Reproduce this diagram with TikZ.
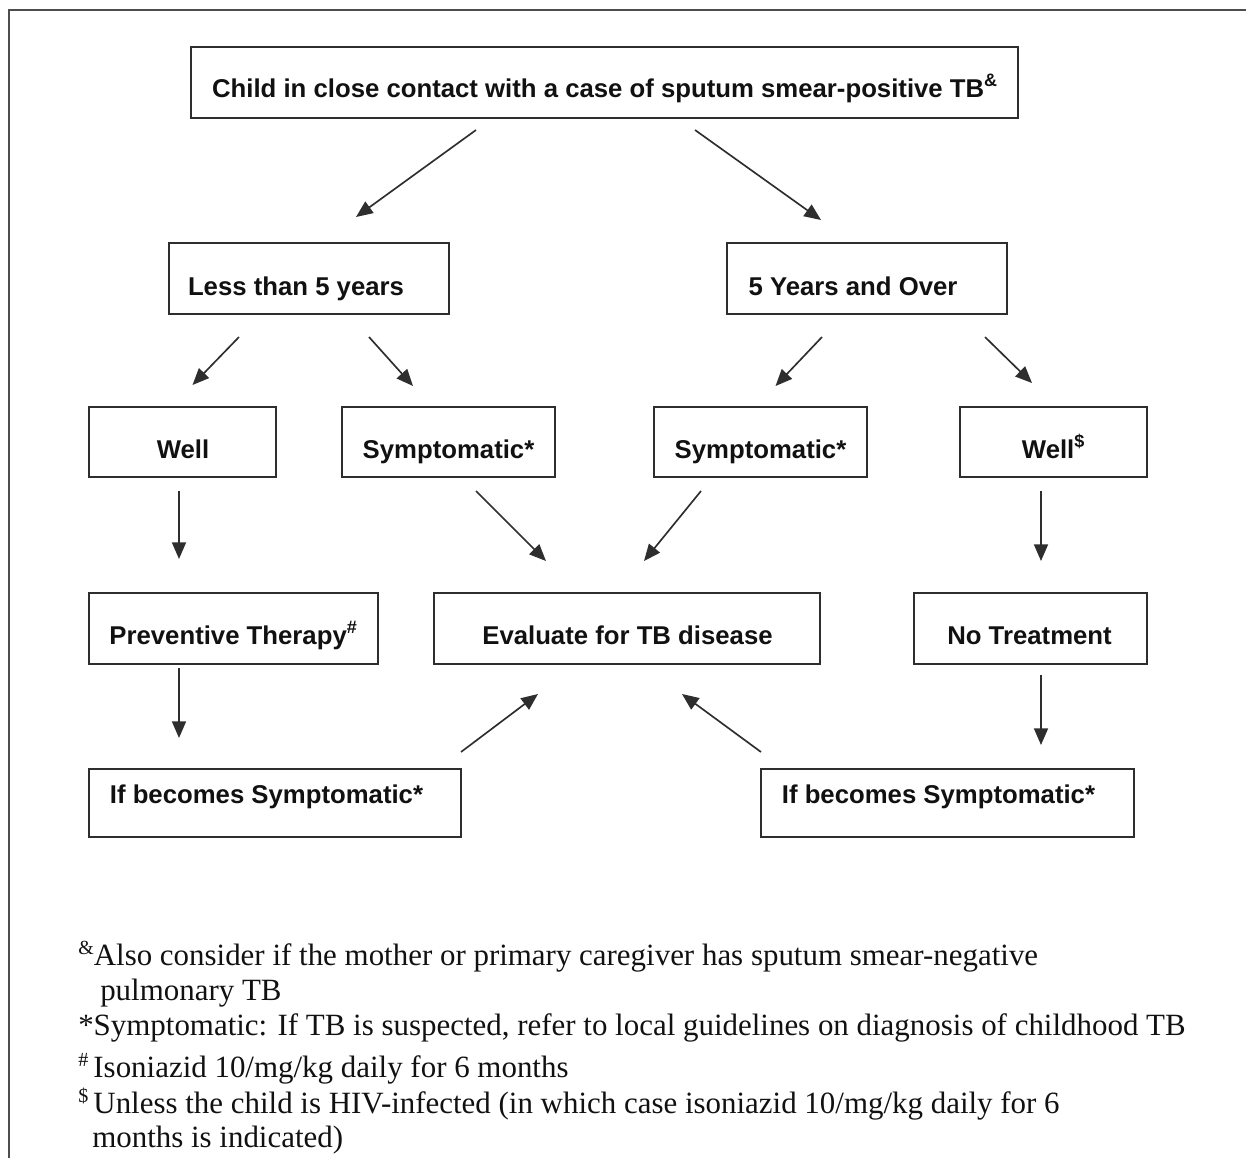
\documentclass[tikz,border=0pt]{standalone}
\usepackage{fontspec}
\setmainfont{Liberation Serif}
\newfontfamily\boxfont{Liberation Sans}
\usetikzlibrary{arrows.meta,calc}
\definecolor{ln}{HTML}{2E2E2E}
\definecolor{tx}{HTML}{111111}
\begin{document}
\begin{tikzpicture}[x=0.75pt,y=-0.75pt,
  box/.style={draw=ln,line width=1.25pt,inner sep=0pt,outer sep=0pt,rectangle},
  lbl/.style={text=tx,font=\boxfont\bfseries\fontsize{19.3}{23}\selectfont,inner sep=0pt,anchor=base},
  note/.style={text=tx,font=\fontsize{23.2}{28}\selectfont,inner sep=0pt,anchor=base west},
  arr/.style={draw=ln,line width=1.25pt,-{Triangle[length=12.5pt,width=10.5pt]}},
  frame/.style={draw=ln!85,line width=1.1pt}]
\useasboundingbox (0,0) rectangle (1246,1158);
% outer frame (only top and left edges visible)
\coordinate (fTL) at (9,10);
\coordinate (fTR) at (1246,10);
\coordinate (fBL) at (9,1158);
\draw[frame] (fBL) -- (fTL) -- (fTR);

% boxes
\node[box,minimum width=620.25pt,minimum height=53.25pt] (top) at (604.5,82.5) {};
\node[box,minimum width=210pt,minimum height=53.25pt] (less) at (309,278.5) {};
\node[box,minimum width=210pt,minimum height=53.25pt] (over) at (867,278.5) {};
\node[box,minimum width=140.25pt,minimum height=52.5pt] (wellA) at (182.5,442) {};
\node[box,minimum width=159.75pt,minimum height=52.5pt] (sympA) at (448.5,442) {};
\node[box,minimum width=159.75pt,minimum height=52.5pt] (sympB) at (760.5,442) {};
\node[box,minimum width=140.25pt,minimum height=52.5pt] (wellB) at (1053.5,442) {};
\node[box,minimum width=216.75pt,minimum height=53.25pt] (prev) at (233.5,628.5) {};
\node[box,minimum width=289.5pt,minimum height=53.25pt] (eval) at (627,628.5) {};
\node[box,minimum width=174.75pt,minimum height=53.25pt] (notr) at (1030.5,628.5) {};
\node[box,minimum width=279pt,minimum height=51pt] (ifA) at (275,803) {};
\node[box,minimum width=279.75pt,minimum height=51pt] (ifB) at (947.5,803) {};

% box texts
\node[lbl] (tTop) at (605,97) {Child in close contact with a case of sputum smear-positive TB\textsuperscript{\&}};
\node[lbl] (tLess) at (296,295) {Less than 5 years};
\node[lbl] (tOver) at (853,295) {5 Years and Over};
\node[lbl] (tWellA) at (183,458) {Well};
\node[lbl] (tSympA) at (448.5,458) {Symptomatic*};
\node[lbl] (tSympB) at (760.5,458) {Symptomatic*};
\node[lbl] (tWellB) at (1053.5,458) {Well\textsuperscript{\$}};
\node[lbl] (tPrev) at (233.5,644) {Preventive Therapy\textsuperscript{\#}};
\node[lbl] (tEval) at (627.5,644) {Evaluate for TB disease};
\node[lbl] (tNotr) at (1029.5,644) {No Treatment};
\node[lbl] (tIfA) at (266.5,803) {If becomes Symptomatic*};
\node[lbl] (tIfB) at (938.5,803) {If becomes Symptomatic*};

% connectors
\draw[arr] ($(top.south)+(-128.5,12)$) -- ($(less.north)+(47,-26)$);
\draw[arr] ($(top.south)+(90.5,12)$) -- ($(over.north)+(-46,-23)$);
\draw[arr] ($(less.south)+(-70,23)$) -- ($(wellA.north)+(10,-22)$);
\draw[arr] ($(less.south)+(60,23)$) -- ($(sympA.north)+(-35.5,-21)$);
\draw[arr] ($(over.south)+(-45,23)$) -- ($(sympB.north)+(15,-21)$);
\draw[arr] ($(over.south)+(118,23)$) -- ($(wellB.north)+(-21.5,-24)$);
\draw[arr] ($(wellA.south)+(-3.5,14)$) -- ($(wellA.south)+(-3.5,82)$);
\draw[arr] ($(sympA.south)+(27.5,14)$) -- ($(eval.north)+(-81,-32)$);
\draw[arr] ($(sympB.south)+(-59.5,14)$) -- ($(eval.north)+(17,-32)$);
\draw[arr] ($(wellB.south)+(-12.5,14)$) -- ($(wellB.south)+(-12.5,84)$);
\draw[arr] ($(prev.south)+(-54.5,4)$) -- ($(prev.south)+(-54.5,74)$);
\draw[arr] ($(notr.south)+(10.5,11)$) -- ($(notr.south)+(10.5,81)$);
\draw[arr] ($(ifA.north)+(186,-17)$) -- ($(eval.south)+(-89,30)$);
\draw[arr] ($(ifB.north)+(-186.5,-17)$) -- ($(eval.south)+(55,30)$);

% footnotes
\node[note] (n1) at (78,965) {{\fontsize{15}{15}\selectfont\raisebox{0.55em}{\&}}Also consider if the mother or primary caregiver has sputum smear-negative};
\node[note] (n2) at (100,1000) {pulmonary TB};
\node[note] (n3) at (78,1035) {*Symptomatic: If TB is suspected, refer to local guidelines on diagnosis of childhood TB};
\node[note] (n4) at (78,1077) {{\fontsize{15}{15}\selectfont\raisebox{0.55em}{\#}}\,Isoniazid 10/mg/kg daily for 6 months};
\node[note] (n5) at (78,1113) {{\fontsize{15}{15}\selectfont\raisebox{0.55em}{\$}}\,Unless the child is HIV-infected (in which case isoniazid 10/mg/kg daily for 6};
\node[note] (n6) at (92,1147) {months is indicated)};
\end{tikzpicture}
\end{document}
